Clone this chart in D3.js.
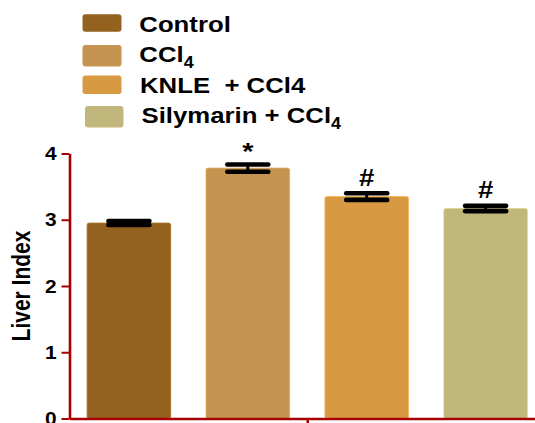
<!DOCTYPE html>
<html>
<head>
<meta charset="utf-8">
<script src="https://cdn.jsdelivr.net/npm/d3@7"></script>
<style>
  html, body { margin: 0; padding: 0; background: #fff; }
  svg { display: block; }
  text { font-family: "Liberation Sans", Arial, Helvetica, sans-serif; font-weight: bold; fill: #000; white-space: pre; }
</style>
</head>
<body>
<script>
// ---- data ----
const categories = ["Control", "CCl4", "KNLE + CCl4", "Silymarin + CCl4"];
const means = [2.95, 3.78, 3.35, 3.17];
const sems = [0.03, 0.055, 0.05, 0.04];
const marks = ["", "*", "#", "#"];
const colors = ["#93621f", "#c49450", "#d79a42", "#c1b77c"];
const legendMain = ["Control", "CCl", "KNLE  + CCl4", "Silymarin + CCl"];
const legendSub = ["", "4", "", "4"];
const yTicks = [0, 1, 2, 3, 4];
const yTitle = "Liver Index";

const W = 535, H = 423;
const axisColor = "#a80000";
const sx = 1.12; // horizontal stretch of text

const svg = d3.select("body").append("svg").attr("width", W).attr("height", H);

const x = d3.scaleBand().domain(categories).range([69.5, 545]).paddingInner(0.297).paddingOuter(0.148);
const y = d3.scaleLinear().domain([0, 4]).range([418.5, 153.5]);

// bars
svg.append("g").selectAll("rect").data(categories).join("rect")
  .attr("x", d => x(d))
  .attr("y", (d, i) => y(means[i]))
  .attr("width", x.bandwidth())
  .attr("height", (d, i) => y(0) - y(means[i]))
  .attr("rx", 2)
  .attr("fill", (d, i) => colors[i])
  .attr("stroke", (d, i) => d3.color(colors[i]).brighter(0.4))
  .attr("stroke-width", 0.8);

// error bars
const eb = svg.append("g").selectAll("g").data(categories).join("g");
const capW = 41;
eb.append("line")
  .attr("x1", d => x(d) + x.bandwidth() / 2).attr("x2", d => x(d) + x.bandwidth() / 2)
  .attr("y1", (d, i) => y(means[i] + sems[i])).attr("y2", (d, i) => y(means[i] - sems[i]))
  .attr("stroke", "#000").attr("stroke-width", 3);
[1, -1].forEach(sgn => {
  eb.append("line")
    .attr("x1", d => x(d) + x.bandwidth() / 2 - capW / 2).attr("x2", d => x(d) + x.bandwidth() / 2 + capW / 2)
    .attr("y1", (d, i) => y(means[i] + sgn * sems[i])).attr("y2", (d, i) => y(means[i] + sgn * sems[i]))
    .attr("stroke", "#000").attr("stroke-width", 4.6).attr("stroke-linecap", "round");
});

// significance marks
svg.append("g").selectAll("g").data(categories).join("g")
  .attr("transform", (d, i) => {
    const cx = x(d) + x.bandwidth() / 2;
    const yy = y(means[i] + sems[i]) - (marks[i] === "*" ? 4 : 7.5);
    return `translate(${cx},${yy}) scale(1.2,1)`;
  })
  .append("text")
  .attr("text-anchor", "middle")
  .attr("font-size", (d, i) => marks[i] === "*" ? 24 : 23)
  .text((d, i) => marks[i]);

// y axis
const yAxis = svg.append("g").attr("transform", "translate(69.5,0)")
  .call(d3.axisLeft(y).tickValues(yTicks).tickFormat(d3.format("d")).tickSize(8).tickSizeOuter(0).tickPadding(3.6));
yAxis.select(".domain").attr("stroke", axisColor).attr("stroke-width", 2.6);
yAxis.selectAll(".tick line").attr("stroke", axisColor).attr("stroke-width", 2);
yAxis.selectAll(".tick text")
  .attr("font-size", 19).attr("font-family", null).attr("fill", "#000")
  .attr("transform", "scale(1.1,1)");
yAxis.attr("font-family", null).attr("font-size", null);

// x axis
const xl = d3.scaleLinear().domain([0, 1]).range([69.5, 545]);
const xAxis = svg.append("g").attr("transform", `translate(0,${y(0)})`)
  .call(d3.axisBottom(xl).tickValues([0.5]).tickFormat("").tickSize(7).tickSizeOuter(0));
xAxis.select(".domain").attr("stroke", axisColor).attr("stroke-width", 2.6);
xAxis.selectAll(".tick line").attr("stroke", axisColor).attr("stroke-width", 2.5);

// y title
svg.append("g").attr("transform", "translate(29.5,286) scale(1.22,1) rotate(-90)")
  .append("text").attr("text-anchor", "middle").attr("font-size", 21).text(yTitle);

// legend
const legY = [31.7, 62.3, 92.7, 123.3];
const swatch = [
  {x: 82.5, y: 14.3, w: 39, h: 17.5},
  {x: 82.5, y: 45, w: 39, h: 21.5},
  {x: 82.5, y: 75.5, w: 39, h: 18.5},
  {x: 85, y: 106, w: 38.5, h: 21.5}
];
const textX = [139.3, 139.3, 140, 141.5];
const leg = svg.append("g").selectAll("g").data(categories).join("g");
leg.append("rect")
  .attr("x", (d, i) => swatch[i].x).attr("y", (d, i) => swatch[i].y)
  .attr("width", (d, i) => swatch[i].w).attr("height", (d, i) => swatch[i].h)
  .attr("rx", 3).attr("fill", (d, i) => colors[i]);
const lt = leg.append("g")
  .attr("transform", (d, i) => `translate(${textX[i]},${legY[i]}) scale(${sx},1)`)
  .append("text").attr("font-size", 23);
lt.append("tspan").text((d, i) => legendMain[i]);
lt.append("tspan").attr("font-size", 16).attr("dy", 6).text((d, i) => legendSub[i]);
</script>
</body>
</html>
